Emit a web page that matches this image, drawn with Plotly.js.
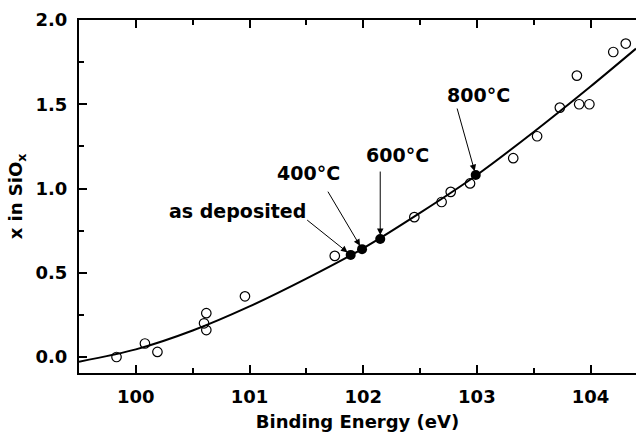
<!DOCTYPE html>
<html>
<head>
<meta charset="utf-8">
<script src="https://cdn.plot.ly/plotly-3.0.1.min.js"></script>
<style>html,body{margin:0;padding:0;background:#fff;}#chart{width:636px;height:440px;}</style>
</head>
<body>
<div id="chart"></div>
<script>
// Open circles: measured samples
const openX = [99.83, 100.08, 100.19, 100.60, 100.62, 100.62, 100.96, 101.75, 102.45, 102.69, 102.77, 102.94, 103.32, 103.53, 103.73, 103.88, 103.90, 103.99, 104.20, 104.31];
const openY = [0.00, 0.08, 0.03, 0.20, 0.26, 0.16, 0.36, 0.60, 0.83, 0.92, 0.98, 1.03, 1.18, 1.31, 1.48, 1.67, 1.50, 1.50, 1.81, 1.86];
// Filled circles: annealed samples
const filledLabels = ["as deposited", "400\u00b0C", "600\u00b0C", "800\u00b0C"];
const filledX = [101.89, 101.99, 102.15, 102.99];
const filledY = [0.606, 0.64, 0.70, 1.08];
// Fitted curve
const fitX = [99.5, 100.0, 100.5, 101.0, 101.5, 102.0, 102.5, 103.0, 103.5, 104.0, 104.4];
const fitY = [-0.028, 0.045, 0.157, 0.30, 0.465, 0.645, 0.855, 1.08, 1.335, 1.605, 1.83];

const FONT = 'DejaVu Sans';
const traces = [
  {x: fitX, y: fitY, mode: 'lines', line: {color: '#000', width: 2, shape: 'spline', smoothing: 0.8}, hoverinfo: 'skip'},
  {x: openX, y: openY, mode: 'markers', marker: {symbol: 'circle-open', size: 9.5, color: '#000', line: {width: 1.2, color: '#000'}}},
  {x: filledX, y: filledY, mode: 'markers', marker: {symbol: 'circle', size: 10, color: '#000'}}
];

// plot area in pixels
const L = 79, T = 20, W = 557, H = 353;
function px(p) { return (p - L) / W; }
function py(p) { return (440 - 67 - p) / H; }

const arrowTail = [[-45, -36], [-35, -59], [0, -69], [-19, -68]];
const textPos = [[237, 211], [308, 173], [397, 155], [478, 95]];
const annotations = [];
filledLabels.forEach((lab, i) => {
  annotations.push({x: filledX[i], y: filledY[i], xref: 'x', yref: 'y', text: '', showarrow: true,
    ax: arrowTail[i][0], ay: arrowTail[i][1], arrowhead: 2, arrowsize: 1.3, arrowwidth: 1, arrowcolor: '#000', standoff: 4});
  annotations.push({x: px(textPos[i][0]), y: py(textPos[i][1]), xref: 'paper', yref: 'paper', text: lab, showarrow: false,
    xanchor: 'center', yanchor: 'middle', font: {family: FONT, size: 19, weight: 'bold', color: '#000'}});
});

const layout = {
  width: 636, height: 440,
  margin: {l: L, r: 0, t: T, b: 67},
  paper_bgcolor: '#fff', plot_bgcolor: '#fff',
  showlegend: false,
  font: {family: FONT, size: 18, weight: 'bold', color: '#000'},
  xaxis: {
    range: [99.5, 104.4], dtick: 1, tick0: 100, ticks: 'inside', ticklen: 8, tickwidth: 2, tickcolor: '#000',
    minor: {dtick: 0.5, ticks: 'inside', ticklen: 5, tickwidth: 2, tickcolor: '#000'},
    showline: true, linewidth: 2, linecolor: '#000', mirror: 'ticks', showgrid: false, zeroline: false,
    tickfont: {family: FONT, size: 18, weight: 'bold'},
    ticklabelstandoff: 6,
    title: {text: 'Binding Energy (eV)', font: {family: FONT, size: 18, weight: 'bold'}, standoff: 10}
  },
  yaxis: {
    range: [-0.095, 2.0], dtick: 0.5, tick0: 0, tickformat: '.1f', ticks: 'inside', ticklen: 8, tickwidth: 2, tickcolor: '#000',
    minor: {dtick: 0.25, ticks: 'inside', ticklen: 5, tickwidth: 2, tickcolor: '#000'},
    showline: true, linewidth: 2, linecolor: '#000', mirror: false, showgrid: false, zeroline: false,
    tickfont: {family: FONT, size: 18, weight: 'bold'},
    ticklabelstandoff: 6,
    title: {text: 'x in SiO<sub>x</sub>', font: {family: FONT, size: 18, weight: 'bold'}, standoff: 8}
  },
  annotations: annotations
};

Plotly.newPlot('chart', traces, layout, {staticPlot: true, displayModeBar: false});
</script>
</body>
</html>
